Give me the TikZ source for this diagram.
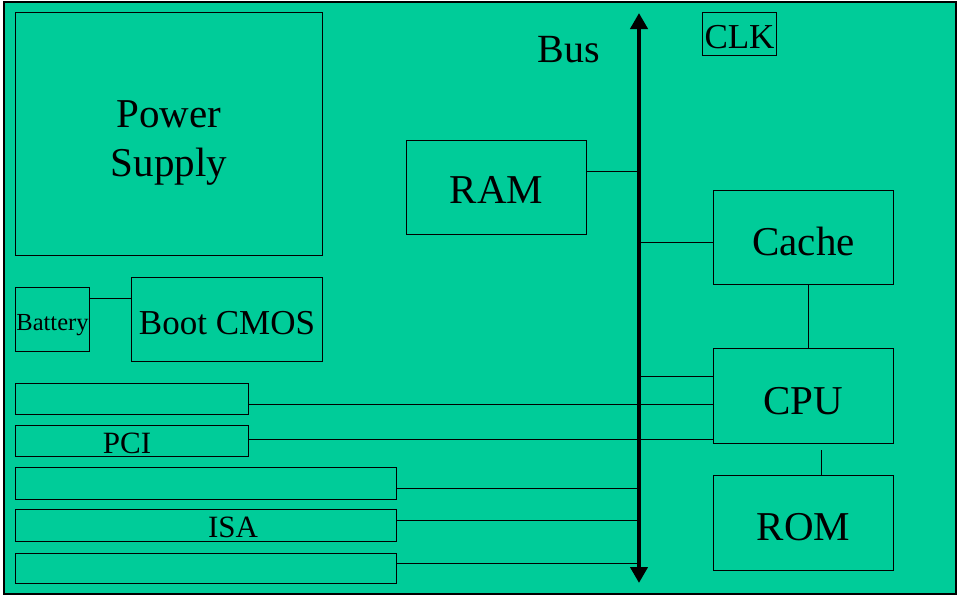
\documentclass[tikz,border=0pt]{standalone}
\usepackage{fontspec}
\setmainfont{Liberation Serif}
\usetikzlibrary{arrows.meta,calc}
\definecolor{board}{RGB}{0,204,153}
\newcommand{\fs}[1]{\fontsize{#1}{#1}\selectfont}
\begin{document}
\begin{tikzpicture}[x=1pt,y=-1pt,
  box/.style={draw=black,line width=1pt,inner sep=0pt,anchor=north west,text depth=0pt},
  big/.style={font=\fs{41}},
  wire/.style={draw=black,line width=0.8pt},
  lbl/.style={inner sep=0pt,anchor=base},
  busline/.style={draw=black,line width=4.5pt,{Triangle[length=16pt,width=17pt]}-{Triangle[length=16pt,width=17pt]}}]
\useasboundingbox (0,0) rectangle (963,598);
\fill[white] (0,0) rectangle (963,598);
\draw[fill=board,line width=1.2pt] (4,2) rectangle (956,594);
% boxes
\node[box,minimum width=307,minimum height=243] (psu) at (15,12) {};
\node[box,minimum width=74,minimum height=64,font=\fs{24.5},text height=22pt] (bat) at (15,287) {Battery};
\node[box,minimum width=191,minimum height=84,font=\fs{35},text height=30pt] (cmos) at (131,277) {Boot CMOS};
\node[box,minimum width=233,minimum height=31] (slot1) at (15,383) {};
\node[box,minimum width=233,minimum height=31] (pci) at (15,425) {};
\node[box,minimum width=381,minimum height=32] (isa1) at (15,467) {};
\node[box,minimum width=381,minimum height=32] (isa2) at (15,509) {};
\node[box,minimum width=381,minimum height=30] (isa3) at (15,553) {};
\node[box,big,minimum width=180,minimum height=94,text height=32pt] (ram) at (406,140) {RAM};
\node[box,big,minimum width=180,minimum height=94,text height=36pt] (cache) at (713,190) {Cache};
\node[box,big,minimum width=180,minimum height=95,text height=37pt] (cpu) at (713,348) {CPU};
\node[box,big,minimum width=180,minimum height=95,text height=35pt] (rom) at (713,475) {ROM};
\node[box,minimum width=74,minimum height=43,font=\fs{35},text height=29pt] (clk) at (702,12) {CLK};
% labels
\node[lbl,align=center,font=\fontsize{41}{49}\selectfont] (psutext) at ($(psu.center)+(0,8.5)$) [anchor=center] {Power\\Supply};
\node[lbl,font=\fs{31}] (pcitext) at (127,453) {PCI};
\node[lbl,font=\fs{31}] (isatext) at (233,537) {ISA};
\node[lbl,font=\fs{40}] (bustext) at (569,62) {Bus};
% bus
\coordinate (bustop) at (639,13);
\coordinate (busbot) at (639,583);
% wires
\draw[wire] (bat.east |- 0,298) -- (cmos.west |- 0,298);
\draw[wire] (ram.east |- 0,171) -- (bustop |- 0,171);
\draw[wire] (bustop |- 0,242) -- (cache.west |- 0,242);
\draw[wire] (bustop |- 0,376) -- (cpu.west |- 0,376);
\draw[wire] (slot1.east |- 0,404) -- (cpu.west |- 0,404);
\draw[wire] (pci.east |- 0,439) -- (cpu.west |- 0,439);
\draw[wire] (isa1.east |- 0,488) -- (bustop |- 0,488);
\draw[wire] (isa2.east |- 0,520) -- (bustop |- 0,520);
\draw[wire] (isa3.east |- 0,563) -- (bustop |- 0,563);
\draw[wire] (cache.south -| 808,0) -- (cpu.north -| 808,0);
\draw[wire,shorten <=6pt] (cpu.south -| 821,0) -- (rom.north -| 821,0);
\draw[busline] (bustop) -- (busbot);
\end{tikzpicture}
\end{document}
